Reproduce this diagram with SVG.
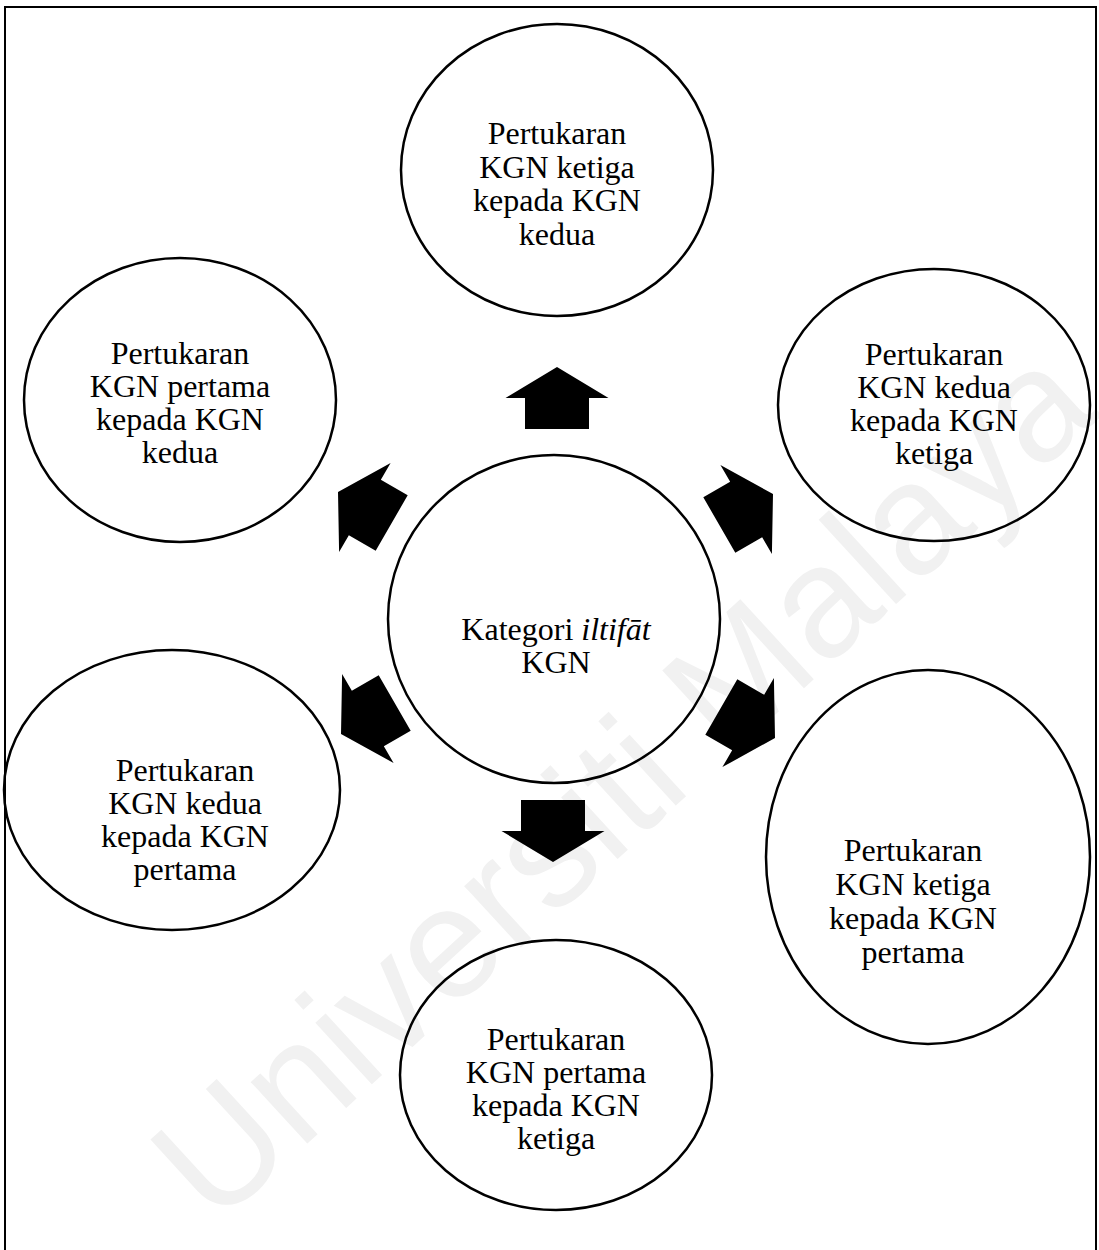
<svg xmlns="http://www.w3.org/2000/svg" width="1099" height="1250" viewBox="0 0 1099 1250">
<defs>
<style>
.node ellipse{fill:none;stroke:#000;stroke-width:2.5}
.lbl{font-family:"Liberation Serif","Times New Roman",serif;font-size:32px;fill:#000;text-anchor:middle}
.arrow{fill:#000}
.wm{font-family:"Liberation Sans",Arial,sans-serif;font-size:158px;fill:#f1f1f1}
</style>
<polygon id="blk" points="0,0 -31,-51.5 -31,-32 -62,-32 -62,32 -31,32 -31,51.5"/>
</defs>
<rect x="0" y="0" width="1099" height="1250" fill="#fff"/>
<text class="wm" transform="translate(215,1228) rotate(-42.5)">Universiti Malaya</text>
<rect x="5" y="7" width="1091" height="1260" fill="none" stroke="#000" stroke-width="2"/>
<g id="connectors" class="arrow">
<use href="#blk" transform="translate(557,367) rotate(-90)"/>
<use href="#blk" transform="translate(553,862) rotate(90)"/>
<use href="#blk" transform="translate(338,492) rotate(-150)"/>
<use href="#blk" transform="translate(773,494) rotate(-30)"/>
<use href="#blk" transform="translate(341,734) rotate(150)"/>
<use href="#blk" transform="translate(775,738) rotate(30)"/>
</g>
<g id="node-center" class="node">
<ellipse cx="554" cy="619" rx="166" ry="164"/>
<text class="lbl" x="556" y="640">Kategori <tspan font-style="italic">iltifāt</tspan></text>
<text class="lbl" x="556" y="673">KGN</text>
</g>
<g id="node-top" class="node">
<ellipse cx="557" cy="170" rx="156" ry="146"/>
<text class="lbl" x="557" y="144">Pertukaran</text>
<text class="lbl" x="557" y="178">KGN ketiga</text>
<text class="lbl" x="557" y="211">kepada KGN</text>
<text class="lbl" x="557" y="245">kedua</text>
</g>
<g id="node-upper-left" class="node">
<ellipse cx="180" cy="400" rx="156" ry="142"/>
<text class="lbl" x="180" y="364">Pertukaran</text>
<text class="lbl" x="180" y="397">KGN pertama</text>
<text class="lbl" x="180" y="430">kepada KGN</text>
<text class="lbl" x="180" y="463">kedua</text>
</g>
<g id="node-upper-right" class="node">
<ellipse cx="934" cy="405" rx="156" ry="136"/>
<text class="lbl" x="934" y="365">Pertukaran</text>
<text class="lbl" x="934" y="398">KGN kedua</text>
<text class="lbl" x="934" y="431">kepada KGN</text>
<text class="lbl" x="934" y="464">ketiga</text>
</g>
<g id="node-lower-left" class="node">
<ellipse cx="172" cy="790" rx="168" ry="140"/>
<text class="lbl" x="185" y="781">Pertukaran</text>
<text class="lbl" x="185" y="814">KGN kedua</text>
<text class="lbl" x="185" y="847">kepada KGN</text>
<text class="lbl" x="185" y="880">pertama</text>
</g>
<g id="node-lower-right" class="node">
<ellipse cx="928" cy="857" rx="162" ry="187"/>
<text class="lbl" x="913" y="861">Pertukaran</text>
<text class="lbl" x="913" y="895">KGN ketiga</text>
<text class="lbl" x="913" y="929">kepada KGN</text>
<text class="lbl" x="913" y="963">pertama</text>
</g>
<g id="node-bottom" class="node">
<ellipse cx="556" cy="1075" rx="156" ry="135"/>
<text class="lbl" x="556" y="1050">Pertukaran</text>
<text class="lbl" x="556" y="1083">KGN pertama</text>
<text class="lbl" x="556" y="1116">kepada KGN</text>
<text class="lbl" x="556" y="1149">ketiga</text>
</g>
</svg>
